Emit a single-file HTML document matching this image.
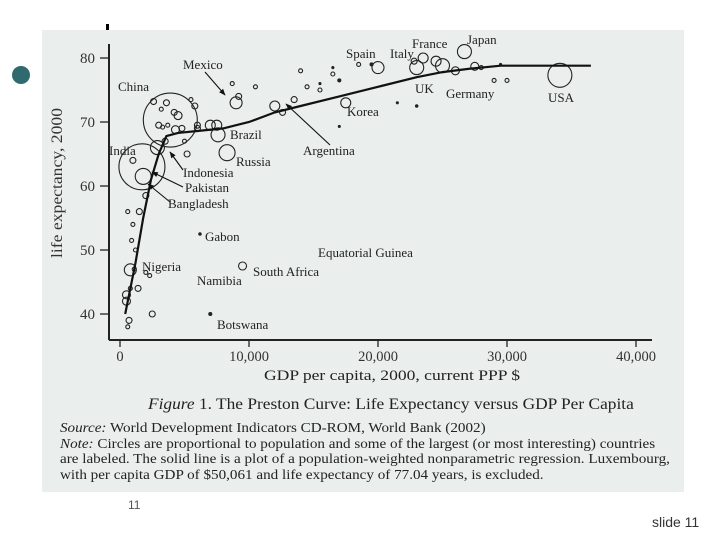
<!DOCTYPE html>
<html><head><meta charset="utf-8"><style>
body{margin:0;width:720px;height:540px;background:#fff;position:relative;overflow:hidden;font-family:"Liberation Serif",serif}
.t{position:absolute;white-space:nowrap;color:#222;transform-origin:0 0}
</style></head><body>
<div style="position:absolute;left:12px;top:66px;width:18px;height:18px;border-radius:50%;background:#2f6a6e"></div>
<div style="position:absolute;left:106px;top:24px;width:3px;height:6px;background:#000"></div>
<div style="position:absolute;left:42px;top:30px;width:642px;height:462px;background:#eaeeed"></div>
<svg width="720" height="540" style="position:absolute;left:0;top:0" font-family="Liberation Serif, serif">
<g id="axes"></g><g id="marks"></g><g id="ann"></g>
</svg>
<div class="t" style="left:264px;top:368px;font-size:15px;transform:scaleX(1.17)">GDP per capita, 2000, current PPP $</div>
<div class="t" style="left:148px;top:396px;font-size:15.5px;transform:scaleX(1.12)"><i>Figure</i> 1. The Preston Curve: Life Expectancy versus GDP Per Capita</div>
<div class="t" style="left:60px;top:420px;font-size:13.5px;line-height:15.6px;transform:scaleX(1.12)"><i>Source:</i> World Development Indicators CD-ROM, World Bank (2002)<br><i>Note:</i> Circles are proportional to population and some of the largest (or most interesting) countries<br>are labeled. The solid line is a plot of a population-weighted nonparametric regression. Luxembourg,<br>with per capita GDP of $50,061 and life expectancy of 77.04 years, is excluded.</div>
<div class="t" style="left:128px;top:498px;font-size:12px;font-family:'Liberation Sans',sans-serif;color:#555">11</div>
<div class="t" style="left:652px;top:514px;font-size:14px;font-family:'Liberation Sans',sans-serif;color:#333">slide 11</div>
<script>
const gdp =  [34.1,26.7,3.9,1.7,8.3,7.6,2.9,1.8,0.8,9.0,6.2,9.5,2.6,3.2,3.6,5.5,4.2,4.8,5.0,6.0,7.0,2.0,1.5,1.0,0.6,0.9,1.2,2.3,0.8,1.4,0.5,0.7,2.5,1.1,7.0,12.0,13.5,15.5,17.5,23.0,24.5,25.0,22.8,23.5,26.0,28.0,29.5,27.5,29.0,30.0,18.5,20.0,19.5,16.5,17.0,21.5,23.0,17.0,10.5,9.2,8.7,12.6,14.5,14.0,6.0,7.5,5.8,4.5,3.0,4.3,1.0,0.6,0.5,2.0,3.5,3.7,5.2,3.3,15.5,16.5];
const life = [77.3,81.0,70.3,63.0,65.2,68.0,66.0,61.5,46.9,73.0,52.5,47.5,73.2,72.0,73.0,73.5,71.5,69.0,67.0,69.5,69.5,58.5,56.0,54.0,56.0,51.5,50.0,46.0,44.0,44.0,42.0,39.0,40.0,47.0,40.0,72.5,73.5,75.0,73.0,78.5,79.5,78.8,79.5,80.0,78.0,78.5,79.0,78.7,76.5,76.5,79.0,78.5,79.0,77.5,76.5,73.0,72.5,69.3,75.5,74.0,76.0,71.5,75.5,78.0,69.0,69.5,72.5,71.0,69.5,68.8,64.0,38.0,43.0,46.5,67.0,69.5,65.0,69.2,76.0,78.5];
const rad =  [12,7,27,23,8,7,7,8,6,6,1.2,4,3,2,3,2,3,3,2,3,5,3,3,2,2,2,2,2,2,3,4,3,3,2,1.5,5,3,2,5,7,5,7,3,5,4,2,1,4,2,2,2,6,1.5,2,1.5,1,1.2,1,2,3,2,3,2,2,3,5,3,4,3,4,3,2,4,2,3,2,3,2,1,1];
const curveG = [0.4,1.2,1.8,2.4,3.0,3.6,4.5,6,8,10,12,14,17,20,23,25,27,29.5,33,36.5];
const curveL = [40,48,55,61,65,67.8,68.3,68.6,69,70,71.5,72.5,74,75.5,77,77.8,78.3,78.8,78.8,78.8];
const yTicks=[40,50,60,70,80];
const xTicks=[0,10,20,30,40];
const xTickLabels=["0","10,000","20,000","30,000","40,000"];
const xs=g=>120+g*12.9, ys=l=>122-(l-70)*6.4;
const NS="http://www.w3.org/2000/svg";
function mk(tag,at,parent){const e=document.createElementNS(NS,tag);for(const k in at)e.setAttribute(k,at[k]);document.getElementById(parent).appendChild(e);return e;}
let a=mk('line',{x1:109,y1:44,x2:109,y2:340,stroke:'#222','stroke-width':2},'axes');


a=mk('line',{x1:109,y1:340,x2:652,y2:340,stroke:'#222','stroke-width':2},'axes');


yTicks.forEach(v=>{
  mk('line',{x1:100,y1:ys(v),x2:109,y2:ys(v),stroke:'#222','stroke-width':1.3},'axes');
  const t=mk('text',{x:95,y:ys(v)+5,'text-anchor':'end','font-size':15,fill:'#333'},'axes');t.textContent=v;
  
  
});
xTicks.forEach((v,i)=>{
  mk('line',{x1:xs(v),y1:340,x2:xs(v),y2:347,stroke:'#222','stroke-width':1.3},'axes');
  const t=mk('text',{x:xs(v),y:361,'text-anchor':'middle','font-size':14.5,fill:'#333'},'axes');t.textContent=xTickLabels[i];
  
  
});
let yl=mk('text',{x:0,y:0,transform:'translate(62,183) rotate(-90)','text-anchor':'middle','font-size':16,fill:'#333',textLength:150,lengthAdjust:'spacingAndGlyphs'},'axes');
yl.textContent='life expectancy, 2000';


gdp.forEach((g,i)=>{
  const r=rad[i];
  const c=mk('circle',{cx:xs(g),cy:ys(life[i]),r:r,fill:r<1.6?'#222':'none',stroke:'#222','stroke-width':1.1},'marks');
  
  
});
let d=curveG.map((g,i)=>(i?'L':'M')+xs(g).toFixed(1)+','+ys(curveL[i]).toFixed(1)).join(' ');
let p=mk('path',{d:d,fill:'none',stroke:'#111','stroke-width':2.2},'marks');


const labels=[["Mexico",183,69],["China",118,91],["India",109,155],["Brazil",230,139],["Russia",236,166],["Indonesia",183,177],["Pakistan",185,192],["Bangladesh",168,208],["Gabon",205,241],["Nigeria",142,271],["Namibia",197,285],["South Africa",253,276],["Botswana",217,329],["Equatorial Guinea",318,257],["Argentina",303,155],["Korea",347,116],["Spain",346,58],["Italy",390,58],["France",412,48],["Japan",467,44],["UK",415,93],["Germany",446,98],["USA",548,102]];
labels.forEach(l=>{const t=mk('text',{x:l[1],y:l[2],'font-size':13,fill:'#222'},'ann');t.textContent=l[0];
  
  });
mk('defs',{},'ann').innerHTML='<marker id="ah" viewBox="0 0 10 10" refX="9" refY="5" markerWidth="6" markerHeight="6" orient="auto"><path d="M0,1 L10,5 L0,9z" fill="#111"/></marker>';
[[205,72,225,95],[330,145,286,104],[183,170,170,152],[183,187,152,172],[170,202,148,184]].forEach(r=>{
  const l=mk('line',{x1:r[0],y1:r[1],x2:r[2],y2:r[3],stroke:'#111','stroke-width':1.1,'marker-end':'url(#ah)'},'ann');
  
  
});
</script>
</body></html>
